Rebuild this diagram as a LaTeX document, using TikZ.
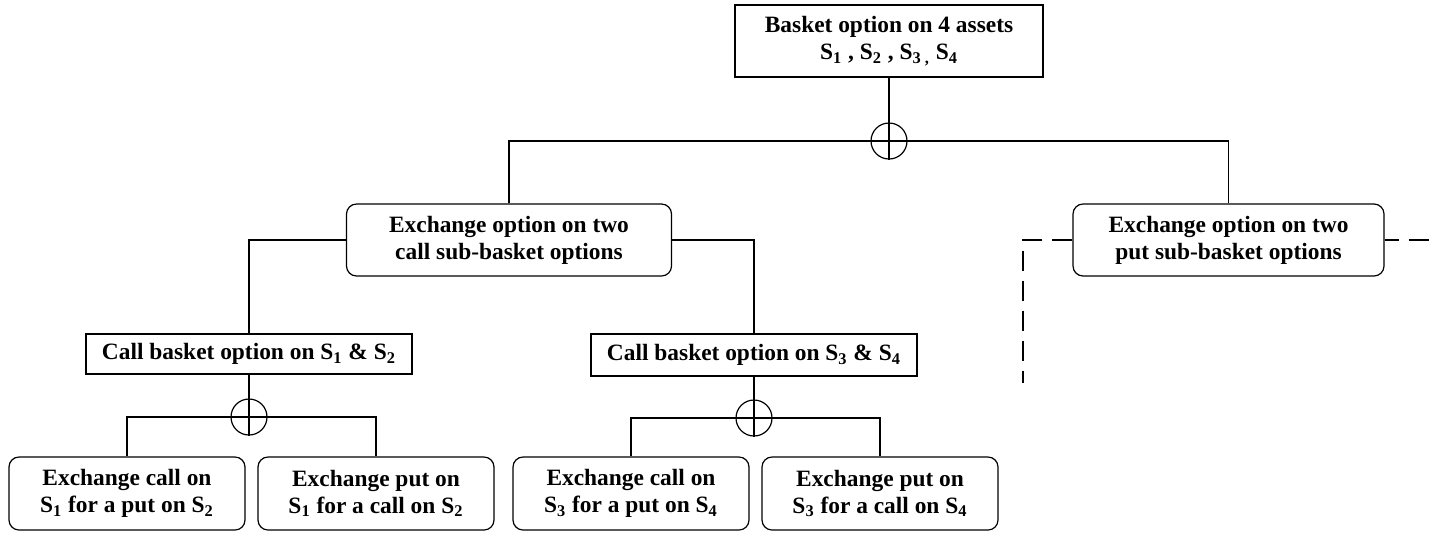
\documentclass[tikz,border=0pt]{standalone}
\usepackage{fontspec}
\setmainfont{Liberation Serif}
\usepackage{tikz}
\usetikzlibrary{calc}
\usetikzlibrary{positioning}

\tikzset{
  sqbox/.style = {draw, line width=0.6pt, align=center, inner sep=0pt,
                  font=\fontsize{11.7}{13.5}\selectfont\bfseries},
  rndbox/.style = {sqbox, rounded corners=5pt, minimum height=36pt},
  leafbox/.style = {rndbox, minimum width=118pt, minimum height=36.5pt},
  oplus/.style = {draw, circle, line width=0.6pt, minimum size=18pt, inner sep=0pt},
  link/.style = {line width=0.6pt},
  dlink/.style = {line width=1.1pt, dash pattern=on 10pt off 5pt}
}

\begin{document}
\begin{tikzpicture}[x=0.5pt,y=-0.5pt]
\useasboundingbox (0,0) rectangle (1438,532);
% root
\node[sqbox, minimum width=154pt, minimum height=36pt] (a) at (889,41)
    {Basket option on 4 assets\\ S\textsubscript{1} , S\textsubscript{2} , S\textsubscript{3 ,} S\textsubscript{4}};
\node[oplus] (o1) at (889,141) {};
% second level
\node[rndbox, minimum width=162.5pt] (b1) at (509,240) {Exchange option on two\\ call sub-basket options};
\node[rndbox, minimum width=155.5pt] (b2) at (1228.5,240) {Exchange option on two\\ put sub-basket options};
% third level
\node[sqbox, minimum width=163pt, minimum height=20pt] (c1) at (249,354) {Call basket option on S\textsubscript{1} \& S\textsubscript{2}};
\node[sqbox, minimum width=163pt, minimum height=21pt] (c2) at (754,355) {Call basket option on S\textsubscript{3} \& S\textsubscript{4}};
\node[oplus] (o2) at (249,417) {};
\node[oplus] (o3) at (754,418) {};
% leaves
\node[leafbox] (d1) at (127,493.5) {Exchange call on\\ S\textsubscript{1} for a put on S\textsubscript{2}};
\node[leafbox] (d2) at (376,493.5) {Exchange put on\\ S\textsubscript{1} for a call on S\textsubscript{2}};
\node[leafbox] (d3) at (631,493.5) {Exchange call on\\ S\textsubscript{3} for a put on S\textsubscript{4}};
\node[leafbox] (d4) at (880,493.5) {Exchange put on\\ S\textsubscript{3} for a call on S\textsubscript{4}};
\coordinate (e1) at (1023,383);
\coordinate (e2) at (1441,383);

\draw[link] (a.south) -- (o1.south);
\draw[link] (b1.north) |- (o1.center) -| (b2.north);
\draw[link] (b1.west) -| (c1.north);
\draw[link] (b1.east) -| (c2.north);
\draw[link] (c1.south) -- (o2.south);
\draw[link] (d1.north) |- (o2.center) -| (d2.north);
\draw[link] (c2.south) -- (o3.south);
\draw[link] (d3.north) |- (o3.center) -| (d4.north);
\draw[dlink] (b2.west) -| (e1);
\draw[dlink, dash phase=3pt] (b2.east) -| (e2);
\end{tikzpicture}
\end{document}
